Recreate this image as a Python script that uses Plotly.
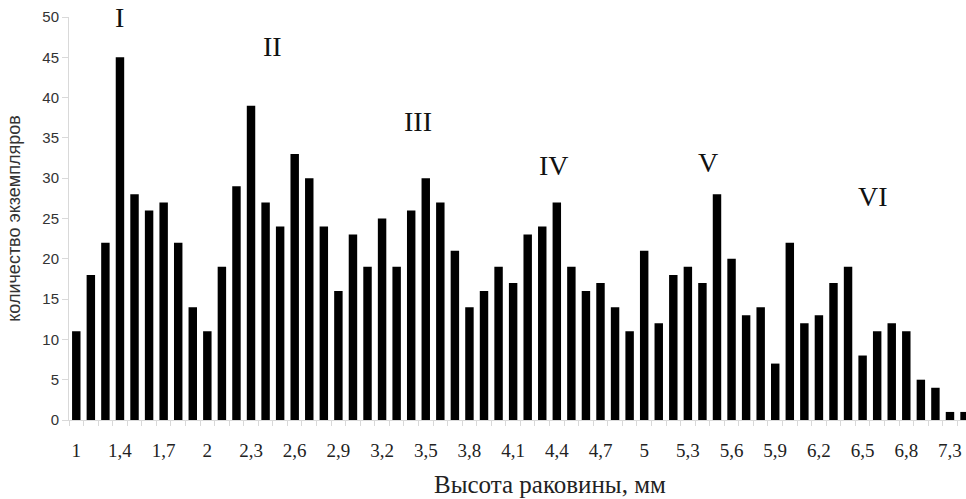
import plotly.graph_objects as go

# Shell height classes (mm) and number of specimens
categories = ["1", "1,2", "1,3", "1,4", "1,5", "1,6", "1,7", "1,8", "1,9", "2",
              "2,1", "2,2", "2,3", "2,4", "2,5", "2,6", "2,7", "2,8", "2,9", "3",
              "3,1", "3,2", "3,3", "3,4", "3,5", "3,6", "3,7", "3,8", "3,9", "4",
              "4,1", "4,2", "4,3", "4,4", "4,5", "4,6", "4,7", "4,8", "4,9", "5",
              "5,1", "5,2", "5,3", "5,4", "5,5", "5,6", "5,7", "5,8", "5,9", "6",
              "6,1", "6,2", "6,3", "6,4", "6,5", "6,6", "6,7", "6,8", "6,9", "7,1",
              "7,3", "7,4"]
counts = [11, 18, 22, 45, 28, 26, 27, 22, 14, 11,
          19, 29, 39, 27, 24, 33, 30, 24, 16, 23,
          19, 25, 19, 26, 30, 27, 21, 14, 16, 19,
          17, 23, 24, 27, 19, 16, 17, 14, 11, 21,
          12, 18, 19, 17, 28, 20, 13, 14, 7, 22,
          12, 13, 17, 19, 8, 11, 12, 11, 5, 4,
          1, 1]
tick_labels = ["1", "1,4", "1,7", "2", "2,3", "2,6", "2,9", "3,2", "3,5", "3,8",
               "4,1", "4,4", "4,7", "5", "5,3", "5,6", "5,9", "6,2", "6,5", "6,8", "7,3"]

# Cohort labels
cohort_names = ["I", "II", "III", "IV", "V", "VI"]
cohort_x = [3.0, 13.45, 23.5, 32.8, 43.4, 54.7]
cohort_y = [50.0, 46.3, 37.0, 31.6, 31.9, 27.7]

x_title = "Высота раковины, мм"
y_title = "количество экземпляров"

x_range = [-0.5, 61.1]
serif = "Liberation Serif, Times New Roman, serif"
sans = "Liberation Sans, Arial, sans-serif"

fig = go.Figure()
fig.add_trace(go.Bar(x=categories, y=counts, marker=dict(color="black", line=dict(width=0)),
                     width=0.58, showlegend=False))
# invisible trace to carry the boundary tick axis
fig.add_trace(go.Scatter(x=[0], y=[0], xaxis="x2", mode="markers",
                         marker=dict(opacity=0), showlegend=False, hoverinfo="skip"))

fig.update_layout(
    width=966, height=499,
    margin=dict(l=69, r=0, t=17, b=79),
    paper_bgcolor="white", plot_bgcolor="white",
    xaxis=dict(type="category", range=x_range, tickmode="array",
               tickvals=tick_labels, ticktext=tick_labels,
               ticks="outside", ticklen=13, tickcolor="rgba(0,0,0,0)",
               tickfont=dict(family=serif, size=19, color="#222"),
               showgrid=False, zeroline=False, automargin=False,
               showline=True, linecolor="#d9d9d9", linewidth=1),
    xaxis2=dict(overlaying="x", side="bottom", range=x_range, tickmode="array",
                tickvals=[i - 0.5 for i in range(len(categories) + 1)],
                ticks="outside", ticklen=5, tickcolor="#d9d9d9", automargin=False,
                showticklabels=False, showgrid=False, zeroline=False, showline=False),
    yaxis=dict(range=[0, 50], tickmode="array", tickvals=[0, 5, 10, 15, 20, 25, 30, 35, 40, 45, 50],
               ticks="outside", ticklen=6, tickcolor="#d9d9d9",
               tickfont=dict(family=sans, size=15, color="#333"),
               showgrid=False, zeroline=False, automargin=False,
               showline=True, linecolor="#d9d9d9", linewidth=1,
               title=dict(text=y_title,
                          font=dict(family=sans, size=18, color="#333"),
                          standoff=17)),
)

# x-axis title (offset to the right as in the original, cropped figure)
fig.add_annotation(x=0.536, y=-0.159, xref="paper", yref="paper", text=x_title,
                   showarrow=False, xanchor="center", yanchor="middle",
                   font=dict(family=serif, size=25, color="#222"))

for name, xv, yv in zip(cohort_names, cohort_x, cohort_y):
    fig.add_annotation(x=xv, y=yv, xref="x", yref="y", text=name, showarrow=False,
                       font=dict(family=serif, size=28, color="#111"))

fig.write_html("out.html", config={"displayModeBar": False},
               post_script="document.body.style.margin='0';document.body.style.overflow='hidden';")
